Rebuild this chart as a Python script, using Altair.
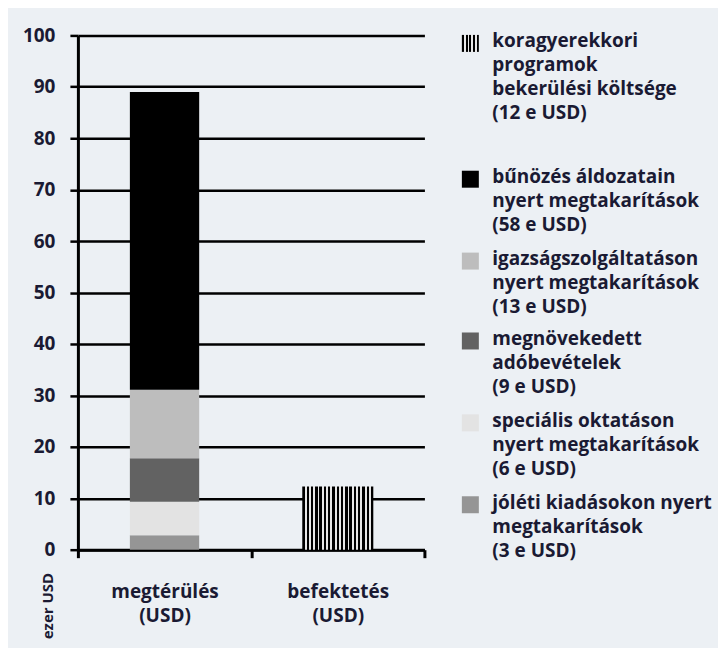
import altair as alt
import pandas as pd

# ---------------- data ----------------
categories = ["megtérülés (USD)", "befektetés (USD)"]

part_names = [
    "jóléti kiadásokon nyert megtakarítások",
    "speciális oktatáson nyert megtakarítások",
    "megnövekedett adóbevételek",
    "igazságszolgáltatáson nyert megtakarítások",
    "bűnözés áldozatain nyert megtakarítások",
]
part_values = [2.8, 6.5, 8.5, 13.3, 57.9]
part_colors = ["#959595", "#e3e3e3", "#626262", "#bdbdbd", "#000000"]

investment_name = "koragyerekkori programok bekerülési költsége"
investment_value = 12.3

y_ticks = list(range(0, 101, 10))

legend_keys = [
    investment_name,
    "bűnözés áldozatain nyert megtakarítások",
    "igazságszolgáltatáson nyert megtakarítások",
    "megnövekedett adóbevételek",
    "speciális oktatáson nyert megtakarítások",
    "jóléti kiadásokon nyert megtakarítások",
]
legend_labels = [
    "koragyerekkori\nprogramok\nbekerülési költsége\n(12 e USD)",
    "bűnözés áldozatain\nnyert megtakarítások\n(58 e USD)",
    "igazságszolgáltatáson\nnyert megtakarítások\n(13 e USD)",
    "megnövekedett\nadóbevételek\n(9 e USD)",
    "speciális oktatáson\nnyert megtakarítások\n(6 e USD)",
    "jóléti kiadásokon nyert\nmegtakarítások\n(3 e USD)",
]

# ---------------- style ----------------
FONT = "Open Sans"
TEXT = "#1a1a33"
BG = "#ECF0F4"
PLOT_W, PLOT_H = 347, 515
LINE_H = 24


def stripes(n, dark="#000000", light="#e8e8e8", w=1.3, g=1.0):
    total = n * w + (n - 1) * g
    stops = []
    pos = 0.0
    for i in range(n):
        a = pos / total
        b = (pos + w) / total
        stops += [{"offset": a, "color": dark}, {"offset": b, "color": dark}]
        pos += w
        if i < n - 1:
            c = (pos + g) / total
            stops += [{"offset": b, "color": light}, {"offset": c, "color": light}]
            pos += g
    return {"gradient": "linear", "x1": 0, "y1": 0, "x2": 1, "y2": 0, "stops": stops}


# ---------------- main chart ----------------
df_parts = pd.DataFrame({
    "category": [categories[0]] * len(part_names),
    "part": part_names,
    "value": part_values,
    "order": list(range(len(part_names))),
})
df_inv = pd.DataFrame({"category": [categories[1]], "part": [investment_name], "value": [investment_value]})

x_enc = alt.X(
    "category:N",
    scale=alt.Scale(domain=categories, paddingInner=0, paddingOuter=0),
    axis=alt.Axis(
        title=None, labelAngle=0, labelExpr="split(datum.label, ' ')",
        tickBand="extent", tickSize=8, tickWidth=3, tickColor="black",
        domainWidth=3, domainColor="black", labelPadding=25,
        labelLineHeight=24, labelFontSize=19, labelFont=FONT,
        labelFontWeight="bold", labelColor=TEXT,
    ),
)
y_scale = alt.Scale(domain=[0, 100], nice=False)
y_axis = alt.Axis(
    values=y_ticks, grid=True, gridColor="black", gridWidth=2.5, gridOpacity=1,
    domainWidth=3, domainColor="black", tickSize=8, tickWidth=2.5, tickColor="black",
    labelPadding=15, labelFontSize=19, labelFont=FONT, labelFontWeight="bold",
    labelColor=TEXT, title="ezer USD", titleAngle=270, titleX=-30, titleY=571,
    titleAlign="center", titleBaseline="middle", titleFontSize=15, titleFont=FONT,
    titleFontWeight="bold", titleColor=TEXT,
)

stacked = alt.Chart(df_parts).mark_bar(width=alt.RelativeBandSize(0.4)).encode(
    x=x_enc,
    y=alt.Y("value:Q", stack="zero", scale=y_scale, axis=y_axis),
    color=alt.Color("part:N", scale=alt.Scale(domain=part_names, range=part_colors), legend=None),
    order=alt.Order("order:Q"),
)
invest = alt.Chart(df_inv).mark_bar(width=alt.RelativeBandSize(0.41), color=stripes(17)).encode(
    x=alt.X("category:N"),
    y=alt.Y("value:Q"),
)
main = alt.layer(stacked, invest).properties(width=PLOT_W, height=PLOT_H)

# ---------------- legend ----------------
line_counts = [lab.count("\n") + 1 for lab in legend_labels]
gaps = [40, 10, 8, 10, 10]
centers = [8]
for i in range(1, len(legend_labels)):
    centers.append(centers[-1] + line_counts[i - 1] * LINE_H + gaps[i - 1])
df_leg = pd.DataFrame({
    "key": legend_keys,
    "label": legend_labels,
    "cy": centers,
    "ty": [c - 11 for c in centers],
})
leg_y = alt.Scale(domain=[0, PLOT_H], reverse=True, nice=False)

leg_text = alt.Chart(df_leg).mark_text(
    align="left", baseline="top", lineBreak="\n", lineHeight=LINE_H,
    fontSize=19, font=FONT, fontWeight="bold", color=TEXT,
).encode(x=alt.value(43), y=alt.Y("ty:Q", scale=leg_y, axis=None), text="label:N")

leg_solid = alt.Chart(df_leg).transform_filter(
    alt.datum.key != investment_name
).mark_square(size=289, opacity=1).encode(
    x=alt.value(21),
    y=alt.Y("cy:Q", scale=leg_y, axis=None),
    color=alt.Color("key:N", scale=alt.Scale(domain=part_names, range=part_colors), legend=None),
)
leg_striped = alt.Chart(df_leg).transform_filter(
    alt.datum.key == investment_name
).mark_square(size=289, opacity=1, color=stripes(5, w=1.2, g=1.0)).encode(
    x=alt.value(21),
    y=alt.Y("cy:Q", scale=leg_y, axis=None),
)
legend = alt.layer(leg_text, leg_solid, leg_striped).properties(width=258, height=PLOT_H)

chart = alt.hconcat(main, legend, spacing=25, bounds="flush").resolve_scale(
    color="independent"
).properties(
    padding={"left": 13, "top": 17, "right": 5, "bottom": 8},
    background=BG,
).configure_view(stroke="transparent")

chart.save("out.html", embed_options={"renderer": "svg", "actions": False})
